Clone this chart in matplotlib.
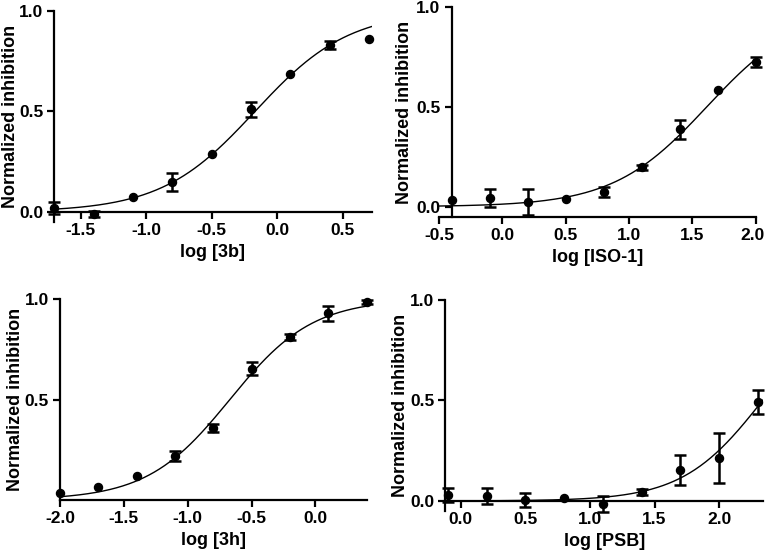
import numpy as np
import matplotlib
matplotlib.use("Agg")
import matplotlib.pyplot as plt
import matplotlib.transforms as mtransforms

plt.rcParams['font.family'] = ['Liberation Sans', 'DejaVu Sans']
plt.rcParams['font.weight'] = 'bold'
plt.rcParams['axes.unicode_minus'] = False

# panel 1: 3b
x_3b = [-1.7, -1.4, -1.1, -0.8, -0.5, -0.2, 0.1, 0.4, 0.7]
y_3b = [0.02, -0.01, 0.073, 0.15, 0.286, 0.51, 0.688, 0.829, 0.859]
e_3b = [0.03, 0.015, 0.0, 0.045, 0.0, 0.037, 0.0, 0.02, 0.0]
fit_3b = (0.0, 1.0, -0.17, 1.21)  # bottom, top, logIC50, hill

# panel 2: ISO-1
x_iso = [-0.4, -0.1, 0.2, 0.5, 0.8, 1.1, 1.4, 1.7, 2.0]
y_iso = [0.032, 0.045, 0.022, 0.037, 0.072, 0.198, 0.387, 0.583, 0.722]
e_iso = [0.0, 0.045, 0.065, 0.0, 0.025, 0.012, 0.048, 0.0, 0.025]
fit_iso = (0.0, 1.0, 1.615, 1.17)

# panel 3: 3h
x_3h = [-2.0, -1.7, -1.4, -1.1, -0.8, -0.5, -0.2, 0.1, 0.4]
y_3h = [0.033, 0.063, 0.121, 0.218, 0.359, 0.654, 0.812, 0.928, 0.987]
e_3h = [0.0, 0.0, 0.0, 0.025, 0.02, 0.033, 0.015, 0.035, 0.01]
fit_3h = (0.0, 1.0, -0.67, 1.34)

# panel 4: PSB
x_psb = [-0.1, 0.2, 0.5, 0.8, 1.1, 1.4, 1.7, 2.0, 2.3]
y_psb = [0.03, 0.023, 0.003, 0.017, -0.013, 0.046, 0.156, 0.212, 0.491]
e_psb = [0.035, 0.04, 0.035, 0.0, 0.04, 0.015, 0.075, 0.125, 0.06]
fit_psb = (0.0, 1.0, 2.337, 1.4)


def logistic(x, p):
    bottom, top, c, h = p
    return bottom + (top - bottom) / (1 + 10 ** ((c - x) * h))


W, H = 766, 550
fig = plt.figure(figsize=(W / 100, H / 100), dpi=100)


def make_ax(l, r, t, b):
    return fig.add_axes([l / W, 1 - b / H, (r - l) / W, (b - t) / H])


def panel(ax, x, y, e, fit, xlim, ylim, xticks, yticks, xlabel, ylab_px,
          yspine_x=None, xspine_y=None):
    xs = np.linspace(xlim[0], xlim[1], 300)
    ax.plot(xs, logistic(xs, fit), color='black', lw=1.0, zorder=2)
    x, y, e = np.array(x), np.array(y), np.array(e)
    has = e > 0
    ax.errorbar(x[has], y[has], yerr=e[has], fmt='none', ecolor='black',
                elinewidth=1.8, capsize=4.5, capthick=1.8, zorder=3,
                clip_on=False)
    ax.plot(x, y, 'o', color='black', ms=5.8, zorder=4, clip_on=False)
    ax.set_xlim(*xlim)
    ax.set_ylim(*ylim)
    ax.set_xticks(xticks)
    ax.set_xticklabels([f"{v:.1f}" for v in xticks])
    ax.set_yticks(yticks)
    ax.set_yticklabels([f"{v:.1f}" for v in yticks])
    ax.spines['top'].set_visible(False)
    ax.spines['right'].set_visible(False)
    for s in ('left', 'bottom'):
        ax.spines[s].set_linewidth(1.6)
    if yspine_x is not None:
        ax.spines['left'].set_position(('data', yspine_x))
    if xspine_y is not None:
        ax.spines['bottom'].set_position(('data', xspine_y))
        ax.spines['bottom'].set_zorder(1)
    ax.tick_params(width=1.6, length=5, labelsize=12.5, pad=3)
    ax.set_xlabel(xlabel, fontsize=13, fontweight='bold', labelpad=4)
    ax.set_ylabel('Normalized inhibition', fontsize=13, fontweight='bold',
                  va='baseline')
    tr = mtransforms.blended_transform_factory(fig.transFigure, ax.transAxes)
    ax.yaxis.set_label_coords(ylab_px / W, 0.5, transform=tr)
    ax.patch.set_visible(False)


ax1 = make_ax(54.3, 371.7, 11, 222)
panel(ax1, x_3b, y_3b, e_3b, fit_3b, (-1.7, 0.72), (-0.05, 1.0),
      [-1.5, -1.0, -0.5, 0.0, 0.5], [0.0, 0.5, 1.0], 'log [3b]', 15,
      xspine_y=0.0)

ax2 = make_ax(439, 755.7, 6.7, 217.3)
panel(ax2, x_iso, y_iso, e_iso, fit_iso, (-0.5, 2.0), (-0.053, 1.0),
      [-0.5, 0.0, 0.5, 1.0, 1.5, 2.0], [0.0, 0.5, 1.0], 'log [ISO-1]', 409,
      yspine_x=-0.4)
# keep the last tick label inside the figure edge
last = ax2.get_xticklabels()[-1]
last.set_transform(last.get_transform() +
                   mtransforms.ScaledTranslation(-3 / 100, 0, fig.dpi_scale_trans))

ax3 = make_ax(60, 366.5, 299, 500)
panel(ax3, x_3h, y_3h, e_3h, fit_3h, (-2.0, 0.4), (0.0, 1.0),
      [-2.0, -1.5, -1.0, -0.5, 0.0], [0.5, 1.0], 'log [3h]', 20)

ax4 = make_ax(445.3, 763, 300, 511)
panel(ax4, x_psb, y_psb, e_psb, fit_psb, (-0.12, 2.34), (-0.05, 1.0),
      [0.0, 0.5, 1.0, 1.5, 2.0], [0.0, 0.5, 1.0], 'log [PSB]', 405,
      xspine_y=0.0)

fig.savefig('out.png', dpi=100)
